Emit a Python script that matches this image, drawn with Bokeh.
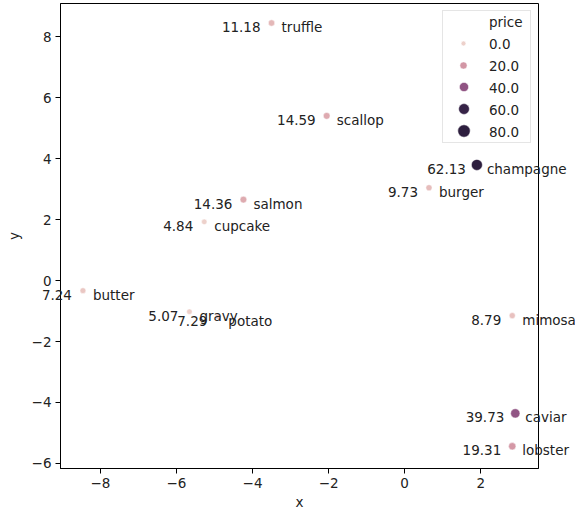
import math
from bokeh.plotting import figure
from bokeh.models import (ColumnDataSource, Legend, LegendItem,
                          FixedTicker, CustomJSTickFormatter, Range1d)
from bokeh.core.properties import value
from bokeh.embed import file_html
from bokeh.resources import INLINE

# ---------------- data ----------------
names = ["truffle", "scallop", "champagne", "burger", "salmon", "cupcake",
         "butter", "gravy", "potato", "mimosa", "caviar", "lobster"]
xs = [-3.50, -2.05, 1.90, 0.64, -4.24, -5.27, -8.46, -5.66, -4.90, 2.83, 2.91, 2.83]
ys = [8.46, 5.41, 3.80, 3.05, 2.66, 1.93, -0.33, -1.02, -1.18, -1.15, -4.36, -5.44]
prices = [11.18, 14.59, 62.13, 9.73, 14.36, 4.84, 7.24, 5.07, 7.29, 8.79, 39.73, 19.31]
legend_values = [0.0, 20.0, 40.0, 60.0, 80.0]
x_ticks = [-8, -6, -4, -2, 0, 2]
y_ticks = [-6, -4, -2, 0, 2, 4, 6, 8]

# ---------------- styling helpers ----------------
pmin, pmax = min(prices), max(prices)


def cubehelix(t):
    t = max(0.0, min(1.0, t))
    x = 0.85 + (0.15 - 0.85) * t
    a = 0.8 * x * (1 - x) / 2
    phi = 2 * math.pi * (0.4 * x)
    r = x + a * (-0.14861 * math.cos(phi) + 1.78277 * math.sin(phi))
    g = x + a * (-0.29227 * math.cos(phi) - 0.90649 * math.sin(phi))
    b = x + a * (1.97294 * math.cos(phi))
    return "#%02x%02x%02x" % tuple(int(round(max(0, min(1, v)) * 255)) for v in (r, g, b))


def norm(v):
    return (v - pmin) / (pmax - pmin)


def msize(v):
    area = 18 + norm(v) * 54
    return math.sqrt(max(area, 1)) * 1.3


src = ColumnDataSource(dict(
    x=xs, y=ys, name=names,
    plabel=["%.2f" % v for v in prices],
    color=[cubehelix(norm(v)) for v in prices],
    size=[msize(v) for v in prices],
))

FONT = "DejaVu Sans"
FS = "13.5px"
TXT = "#222222"

FW, FH = 478, 465
p = figure(frame_width=FW, frame_height=FH, title=None,
           x_range=Range1d(-9.05, 3.52), y_range=Range1d(-6.17, 9.1),
           output_backend="svg", toolbar_location=None,
           min_border_left=60, min_border_right=37,
           min_border_top=3, min_border_bottom=48)
p.grid.visible = False
p.outline_line_color = "black"
p.outline_line_width = 1
p.background_fill_color = "white"
p.border_fill_color = "white"

fmt = CustomJSTickFormatter(code="return tick < 0 ? '\u2212' + (-tick) : '' + tick;")
p.xaxis.ticker = FixedTicker(ticks=x_ticks)
p.yaxis.ticker = FixedTicker(ticks=y_ticks)
for ax in (p.xaxis, p.yaxis):
    ax.formatter = fmt
    ax.minor_tick_line_color = None
    ax.major_tick_in = 0
    ax.major_tick_out = 5
    ax.major_tick_line_color = "black"
    ax.axis_line_color = "black"
    ax.major_label_text_font = FONT
    ax.major_label_text_font_size = FS
    ax.major_label_text_color = TXT
    ax.major_label_standoff = 4
    ax.axis_label_text_font = FONT
    ax.axis_label_text_font_size = FS
    ax.axis_label_text_font_style = "normal"
    ax.axis_label_text_color = TXT
p.xaxis.axis_label_standoff = 3
p.yaxis.axis_label_standoff = 7
p.xaxis.axis_label = "x"
p.yaxis.axis_label = "y"

p.scatter("x", "y", source=src, size="size", fill_color="color",
          line_color="white", line_width=0.5)

p.text("x", "y", text="name", source=src, x_offset=10, y_offset=4,
       text_align="left", text_baseline="middle", level="overlay",
       text_font=value(FONT), text_font_size=value(FS), text_color=TXT)
p.text("x", "y", text="plabel", source=src, x_offset=-11, y_offset=4,
       text_align="right", text_baseline="middle", level="overlay",
       text_font=value(FONT), text_font_size=value(FS), text_color=TXT)

# ---------------- legend ----------------
MARGIN = 7
GW, STAND, LW = 38, 8, 41
BOXW = GW + STAND + LW
dummy = p.scatter(x=[], y=[], size=1, fill_alpha=0, line_alpha=0)
labels = ["price"] + ["%.1f" % v for v in legend_values]
main = Legend(items=[LegendItem(label=l, renderers=[dummy]) for l in labels],
              location="top_right", margin=MARGIN, padding=0, spacing=1,
              glyph_width=GW, glyph_height=21, label_height=21, label_width=LW,
              label_standoff=STAND, label_text_font=FONT, label_text_font_size=FS,
              label_text_color=TXT, border_line_color="#cccccc",
              background_fill_alpha=0.8)
p.add_layout(main)

cx = FW - MARGIN - BOXW + GW / 2
for i, v in enumerate(legend_values):
    g = int(round(msize(v) / 0.4))
    r = p.scatter("x", "y", source=src, size=g * 0.4, fill_color=cubehelix(norm(v)),
                  line_color="white", line_width=0.5, visible=False)
    cy_top = MARGIN + (i + 1) * 22 + 10.5
    cy = FH - cy_top
    leg = Legend(items=[LegendItem(label="%.1f" % v, renderers=[r])],
                 location=(cx - g / 2, cy - g / 2), margin=0, padding=0, spacing=0,
                 glyph_width=g, glyph_height=g, label_width=0, label_height=0,
                 label_standoff=0, label_text_font_size="1px", label_text_alpha=0,
                 inactive_fill_alpha=0,
                 border_line_alpha=0, background_fill_alpha=0)
    p.add_layout(leg)

open("out.html", "w").write(file_html(p, INLINE))
